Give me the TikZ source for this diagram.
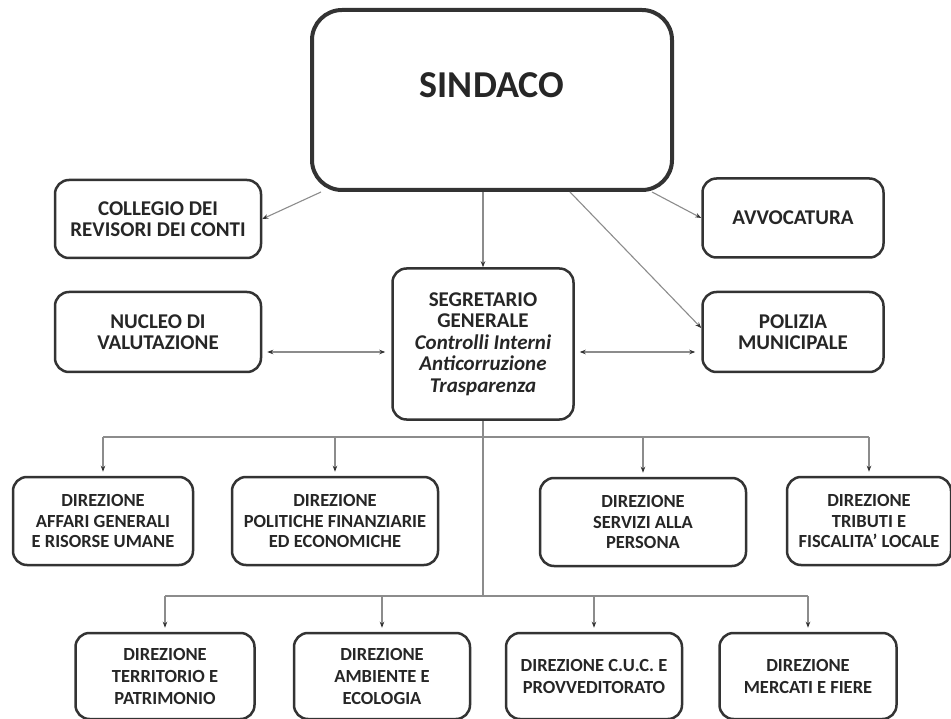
\documentclass[tikz,border=0pt]{standalone}
\usepackage{fontspec}
\setmainfont{Carlito}
\usetikzlibrary{arrows.meta,positioning}
\newcommand{\officeFont}[0]{\fontsize{21}{21}\selectfont\bfseries}
\newcommand{\dirFont}[0]{\fontsize{18.5}{20.5}\selectfont\bfseries}
\newcommand{\tipSpec}[0]{Stealth[length=6pt,width=4.5pt,color=black!80]}

\begin{document}
\begin{tikzpicture}[x=1pt, y=-1pt]
  \tikzset{office/.style={draw=black!80, line width=2.5pt, rounded corners=14pt, align=center,
                          inner sep=0pt, text=black!85, font=\officeFont},
           direzione/.style={office, font=\dirFont, minimum height=88pt},
           link/.style={draw=black!45, line width=1.1pt, -{\tipSpec}},
           twoway/.style={link, {\tipSpec}-{\tipSpec}, shorten <=5pt, shorten >=6pt},
           trunk/.style={draw=black!45, line width=1.1pt}}
  \useasboundingbox (0,0) rectangle (951,719);

  \node[office, line width=4pt, rounded corners=30pt, minimum width=360pt, minimum height=180pt,
        font=\fontsize{38}{38}\selectfont\bfseries, text height=26pt, text depth=30pt]
    (sindaco) at (492,100) {SINDACO};

  \node[office, minimum width=206pt, minimum height=78pt] (collegio) at (158,219) {COLLEGIO DEI\\REVISORI DEI CONTI};
  \node[office, minimum width=181pt, minimum height=79pt] (avvocatura) at (793,218) {AVVOCATURA};
  \node[office, minimum width=206pt, minimum height=80pt] (nucleo) at (158,332) {NUCLEO DI\\VALUTAZIONE};
  \node[office, minimum width=181pt, minimum height=151pt, font=\fontsize{21}{21.6}\selectfont\bfseries]
    (segretario) at (483,344)
    {SEGRETARIO\\GENERALE\\\textit{Controlli Interni}\\\textit{Anticorruzione}\\\textit{Trasparenza}};
  \node[office, minimum width=181pt, minimum height=80pt] (polizia) at (793,332) {POLIZIA\\MUNICIPALE};

  \node[direzione, minimum width=180pt] (affari) at (103,521) {DIREZIONE\\AFFARI GENERALI\\E RISORSE UMANE};
  \node[direzione, minimum width=206pt] (politiche) at (335,521) {DIREZIONE\\POLITICHE FINANZIARIE\\ED ECONOMICHE};
  \node[direzione, minimum width=206pt] (servizi) at (643,522) {DIREZIONE\\SERVIZI ALLA\\PERSONA};
  \node[direzione, minimum width=164pt] (tributi) at (869,521) {DIREZIONE\\TRIBUTI E\\FISCALITA' LOCALE};

  \tikzset{lowrow/.style={direzione, minimum height=86pt, font=\fontsize{18.5}{22}\selectfont\bfseries}}
  \node[lowrow, minimum width=179pt] (territorio) at (165,676) {DIREZIONE\\TERRITORIO E\\PATRIMONIO};
  \node[lowrow, minimum width=176pt] (ambiente) at (382,676) {DIREZIONE\\AMBIENTE E\\ECOLOGIA};
  \node[lowrow, minimum width=176pt] (cuc) at (594,676) {DIREZIONE C.U.C. E\\PROVVEDITORATO};
  \node[lowrow, minimum width=177pt] (mercati) at (808,676) {DIREZIONE\\MERCATI E FIERE};

  \draw[link] ([xshift=11pt]sindaco.south west) -- (collegio.east);
  \draw[link] ([xshift=-22pt]sindaco.south east) -- (avvocatura.west);
  \draw[link] (sindaco.south -| segretario.north) -- (segretario.north);
  \draw[link] ([xshift=78pt]sindaco.south) -- ([yshift=4pt]polizia.west);
  \draw[twoway] ([yshift=-20pt]nucleo.east) -- ([yshift=-20pt]nucleo.east -| segretario.west);
  \draw[twoway] ([yshift=-20pt]polizia.west -| segretario.east) -- ([yshift=-20pt]polizia.west);

  \coordinate (busTop) at (483,437);
  \coordinate (busLow) at (483,596);
  \draw[trunk] (segretario.south) -- (busLow);
  \draw[trunk] (affari.north |- busTop) -- (tributi.north |- busTop);
  \draw[trunk] (territorio.north |- busLow) -- (mercati.north |- busLow);
  \foreach \dir in {affari,politiche,servizi,tributi}
    \draw[link, shorten >=4pt] (\dir.north |- busTop) -- (\dir.north);
  \foreach \dir in {territorio,ambiente,cuc,mercati}
    \draw[link, shorten >=4pt] (\dir.north |- busLow) -- (\dir.north);
\end{tikzpicture}
\end{document}
